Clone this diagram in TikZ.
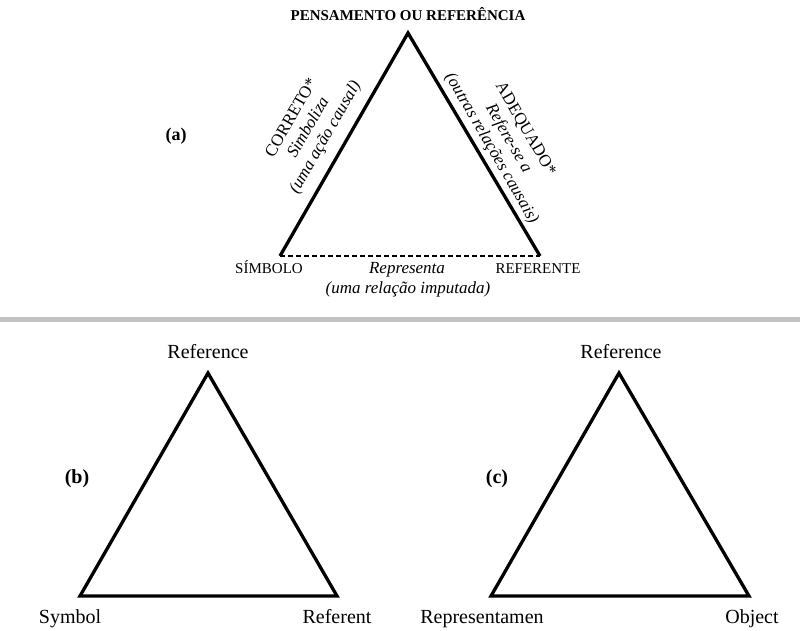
\documentclass[tikz,border=0pt]{standalone}
\usepackage{fontspec}
\setmainfont{Liberation Serif}
\begin{document}
\begin{tikzpicture}[x=1pt,y=-1pt,
  edge/.style={line width=3.3pt,line join=miter,line cap=butt},
  dashedge/.style={line width=2.9pt,dash pattern=on 5pt off 3pt},
  capsmall/.style={font=\fontsize{15}{18}\selectfont,anchor=base,inner sep=0pt},
  itsmall/.style={font=\fontsize{17}{20}\selectfont\itshape,anchor=base,inner sep=0pt},
  side/.style={font=\fontsize{17}{19.5}\selectfont,align=center,inner sep=0pt},
  big/.style={font=\fontsize{20}{24}\selectfont,anchor=base,inner sep=0pt},
  tag/.style={font=\fontsize{20}{24}\selectfont\bfseries,anchor=base,inner sep=0pt}]
\useasboundingbox (0,0) rectangle (800,630);
% separator
\fill[gray!48] (0,317) rectangle (800,322);
% (a)
\coordinate (aT) at (408,33);
\coordinate (aL) at (280,256);
\coordinate (aR) at (540,256);
\draw[edge] (aL) -- (aT) -- (aR);
\draw[dashedge] (aL) -- (aR);
\node[anchor=base,inner sep=0pt,font=\fontsize{15}{18}\selectfont\bfseries] (pens) at (408,20) {PENSAMENTO OU REFERÊNCIA};
\node[tag,font=\fontsize{18}{22}\selectfont\bfseries] (la) at (176,140) {(a)};
\node[side,rotate=60] (lside) at (309,128) {CORRETO*\\\itshape Simboliza\\\itshape (uma ação causal)};
\node[side,rotate=-60] (rside) at (508,139) {ADEQUADO*\\\itshape Refere-se a\\\itshape (outras relações causais)};
\node[capsmall] (simb) at (269,273) {SÍMBOLO};
\node[capsmall] (refe) at (538,273) {REFERENTE};
\node[itsmall] (repr) at (407,273) {Representa};
\node[itsmall] (imput) at (408,293) {(uma relação imputada)};
% (b)
\coordinate (bT) at (208,373);
\coordinate (bL) at (80,596);
\coordinate (bR) at (337,596);
\draw[edge] (bL) -- (bT) -- (bR) -- cycle;
\node[big] (bref) at (208,358) {Reference};
\node[big] (bsym) at (70,623) {Symbol};
\node[big] (breft) at (337,623) {Referent};
\node[tag] (lb) at (77,483) {(b)};
% (c)
\coordinate (cT) at (619,373);
\coordinate (cL) at (491,596);
\coordinate (cR) at (749,596);
\draw[edge] (cL) -- (cT) -- (cR) -- cycle;
\node[big] (cref) at (621,358) {Reference};
\node[big] (crep) at (482,623) {Representamen};
\node[big] (cobj) at (752,623) {Object};
\node[tag] (lc) at (497,483) {(c)};
\end{tikzpicture}
\end{document}
